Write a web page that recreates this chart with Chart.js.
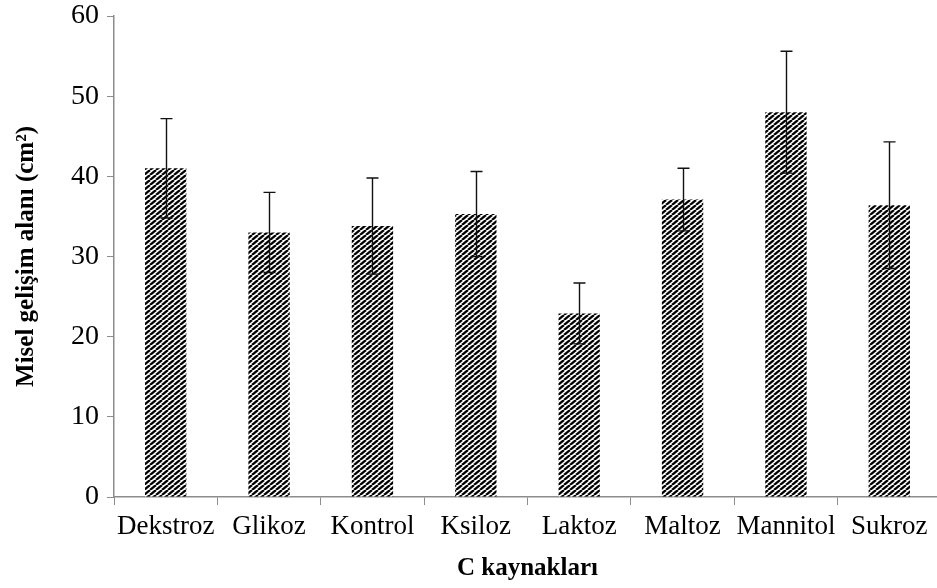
<!DOCTYPE html>
<html>
<head>
<meta charset="utf-8">
<script src="https://cdn.jsdelivr.net/npm/chart.js@4"></script>
<style>
  html, body { margin: 0; padding: 0; background: #fff; overflow: hidden; }
  #wrap { width: 941px; height: 588px; }
</style>
</head>
<body>
<div id="wrap"><canvas id="chart" width="941" height="588"></canvas></div>
<script>
// data
const categories = ["Dekstroz", "Glikoz", "Kontrol", "Ksiloz", "Laktoz", "Maltoz", "Mannitol", "Sukroz"];
const meanArea = [41.0, 33.0, 33.8, 35.3, 22.9, 37.1, 48.0, 36.4];
const stdErr = [6.2, 5.0, 6.0, 5.3, 3.8, 3.9, 7.6, 7.9];
const yTicks = [0, 10, 20, 30, 40, 50, 60];

const FONT = "'Liberation Serif', 'Times New Roman', serif";
const AXIS_GRAY = "#8c8c8c";

// diagonal stripe fill (like the office "wide upward diagonal")
function stripePattern() {
  const w = 6, h = 5;
  const c = document.createElement("canvas");
  c.width = w; c.height = h;
  const g = c.getContext("2d");
  g.fillStyle = "#fff";
  g.fillRect(0, 0, w, h);
  g.strokeStyle = "#000";
  g.lineWidth = 2.3;
  for (let k = -1; k <= 1; k++) {
    g.beginPath();
    g.moveTo(k * w, h);
    g.lineTo(k * w + w, 0);
    g.stroke();
  }
  return g.createPattern(c, "repeat");
}

// error bars
const errorBars = {
  id: "errorBars",
  afterDatasetsDraw(chart) {
    const ctx = chart.ctx;
    const y = chart.scales.y;
    const meta = chart.getDatasetMeta(0);
    ctx.save();
    ctx.strokeStyle = "#111";
    ctx.lineWidth = 1.4;
    meta.data.forEach((bar, i) => {
      const x = Math.round(bar.x) + 0.5;
      const top = y.getPixelForValue(meanArea[i] + stdErr[i]);
      const bot = y.getPixelForValue(meanArea[i] - stdErr[i]);
      ctx.beginPath();
      ctx.moveTo(x, top); ctx.lineTo(x, bot);
      ctx.moveTo(x - 6, top); ctx.lineTo(x + 6, top);
      ctx.moveTo(x - 6, bot); ctx.lineTo(x + 6, bot);
      ctx.stroke();
    });
    ctx.restore();
  }
};

new Chart(document.getElementById("chart"), {
  type: "bar",
  data: {
    labels: categories,
    datasets: [{
      data: meanArea,
      backgroundColor: stripePattern(),
      borderWidth: 0,
      barPercentage: 0.4,
      categoryPercentage: 1.0
    }]
  },
  options: {
    responsive: false,
    animation: false,
    layout: { padding: { top: 16, right: 0, left: 0, bottom: 0 } },
    plugins: {
      legend: { display: false },
      tooltip: { enabled: false }
    },
    scales: {
      x: {
        grid: {
          display: true,
          drawOnChartArea: false,
          offset: true,
          tickLength: 8,
          color: AXIS_GRAY
        },
        border: { color: AXIS_GRAY, width: 1.5 },
        ticks: {
          color: "#000",
          font: { family: FONT, size: 27 },
          padding: 6,
          maxRotation: 0,
          autoSkip: false
        },
        title: {
          display: true,
          text: "C kaynakları",
          color: "#000",
          font: { family: FONT, size: 25, weight: "bold" },
          padding: { top: 0, bottom: 4 }
        },
        afterFit: s => { s.height = 588 - 497; }
      },
      y: {
        min: 0,
        max: 60,
        afterBuildTicks: s => { s.ticks = yTicks.map(v => ({ value: v })); },
        grid: {
          display: true,
          drawOnChartArea: false,
          tickLength: 7,
          color: AXIS_GRAY
        },
        border: { color: AXIS_GRAY, width: 1.5 },
        ticks: {
          color: "#000",
          font: { family: FONT, size: 28 },
          padding: 8
        },
        title: {
          display: true,
          text: "Misel gelişim alanı (cm²)",
          color: "#000",
          font: { family: FONT, size: 25, weight: "bold" },
          padding: { top: 12, bottom: 0 }
        },
        afterFit: s => { s.width = 114; s.paddingTop = 0; s.paddingBottom = 0; }
      }
    }
  },
  plugins: [errorBars]
});
</script>
</body>
</html>
